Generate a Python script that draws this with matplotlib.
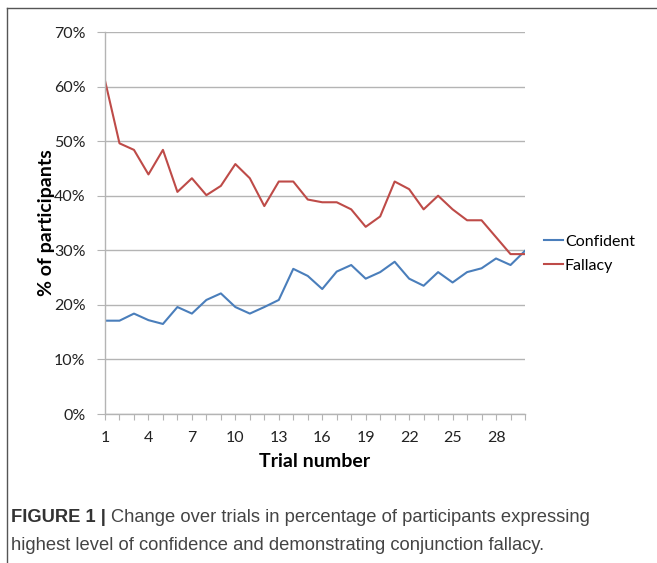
import matplotlib
matplotlib.use('Agg')
import matplotlib.pyplot as plt
from matplotlib.lines import Line2D
from matplotlib.ticker import FuncFormatter

# Data (percent of participants per trial)
trials = list(range(1, 31))
confident = [17.1, 17.1, 18.4, 17.2, 16.5, 19.6, 18.4, 20.9, 22.1, 19.6,
             18.4, 19.6, 20.9, 26.6, 25.3, 22.9, 26.1, 27.3, 24.8, 26.0,
             27.9, 24.8, 23.5, 26.0, 24.1, 26.0, 26.7, 28.5, 27.3, 29.9]
fallacy = [61.1, 49.6, 48.4, 43.9, 48.4, 40.7, 43.2, 40.1, 41.8, 45.8,
           43.2, 38.1, 42.6, 42.6, 39.3, 38.8, 38.8, 37.5, 34.3, 36.2,
           42.6, 41.2, 37.5, 40.0, 37.5, 35.5, 35.5, 32.4, 29.3, 29.3]
y_ticks = [0, 10, 20, 30, 40, 50, 60, 70]
x_ticks = [1, 4, 7, 10, 13, 16, 19, 22, 25, 28]

grid_col = '#b4b4b4'

fig = plt.figure(figsize=(6.57, 5.63), dpi=100)
ax = fig.add_axes([105 / 657, 1 - 414 / 563, 420 / 657, 382 / 563])

ax.plot(trials, confident, color='#4a7ebb', lw=1.5, label='Confident')
ax.plot(trials, fallacy, color='#be4b48', lw=1.5, label='Fallacy')

ax.set_xlim(1, 30)
ax.set_ylim(0, 70)
ax.set_yticks(y_ticks)
ax.yaxis.set_major_formatter(FuncFormatter(lambda v, p: '%d%%' % v))
ax.set_xticks(trials)
ax.set_xticklabels([str(t) if t in x_ticks else '' for t in trials])
ax.grid(axis='y', color=grid_col, lw=1.0)
ax.set_axisbelow(True)

for s in ['top', 'right']:
    ax.spines[s].set_visible(False)
for s in ['left', 'bottom']:
    ax.spines[s].set_color(grid_col)
    ax.spines[s].set_linewidth(1.0)
ax.tick_params(axis='y', length=6, color=grid_col, labelsize=11.5,
               labelcolor='#222222', pad=8)
ax.tick_params(axis='x', length=4, color=grid_col, labelsize=11.5,
               labelcolor='#222222', pad=8)
for lab in ax.get_xticklabels() + ax.get_yticklabels():
    lab.set_family('Lato')

ax.set_xlabel('Trial number', fontsize=14, fontweight='bold',
              family='Lato', labelpad=6)
ax.set_ylabel('% of participants', fontsize=14, fontweight='bold',
              family='Lato', labelpad=-1)

leg = ax.legend(loc='center left', bbox_to_anchor=(1.03, 0.42), frameon=False,
                prop={'family': 'Lato', 'size': 11.5}, handlelength=1.2,
                handletextpad=0.1, labelspacing=0.6, borderaxespad=0)

# frame around the figure (top and left edges)
fig.add_artist(Line2D([7 / 657, 7 / 657], [0, 1 - 8 / 563],
                      transform=fig.transFigure, color='#555555', lw=1.0))
fig.add_artist(Line2D([7 / 657, 1], [1 - 8 / 563, 1 - 8 / 563],
                      transform=fig.transFigure, color='#555555', lw=1.0))

# caption
cap_size = 13.25
bold = fig.text(11 / 657, 1 - 518 / 563, 'FIGURE 1 |', fontsize=cap_size,
                fontweight='bold', color='#333333', family='Liberation Sans',
                va='center')
fig.canvas.draw()
bb = bold.get_window_extent().transformed(fig.transFigure.inverted())
fig.text(bb.x1 + 5 / 657, 1 - 518 / 563,
         'Change over trials in percentage of participants expressing',
         fontsize=cap_size, color='#444444', family='Liberation Sans',
         va='center')
fig.text(11 / 657, 1 - 545 / 563,
         'highest level of confidence and demonstrating conjunction fallacy.',
         fontsize=cap_size, color='#444444', family='Liberation Sans',
         va='center')

fig.savefig('out.png', dpi=100)
